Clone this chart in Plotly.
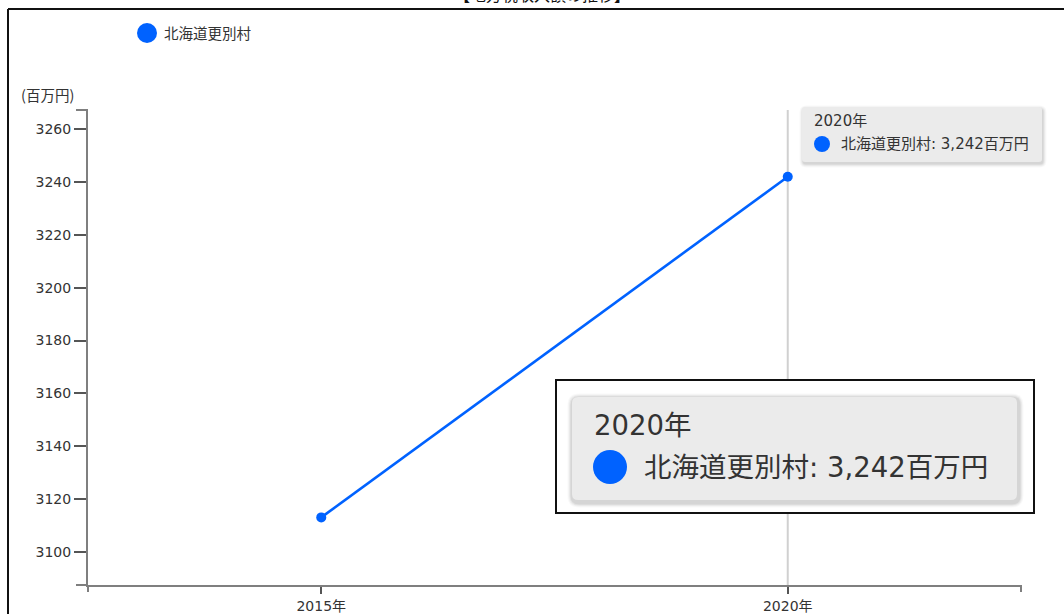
import plotly.graph_objects as go

# ---- data ----
years = ["2015年", "2020年"]
values = [3113, 3242]
series_name = "北海道更別村"
unit = "百万円"
y_title = "(百万円)"
y_ticks = [3100, 3120, 3140, 3160, 3180, 3200, 3220, 3240, 3260]
title_text = "【地方税収入額の推移】"

# ---- layout helpers ----
W, H = 1064, 614
PL, PR, PT, PB = 88, 1021, 110, 585
BLUE = "#0062ff"
FONT = "DejaVu Sans, Noto Sans CJK JP, sans-serif"
CJK = "Noto Sans CJK JP, sans-serif"
TXT = "#333333"


def fx(p):
    return (p - PL) / (PR - PL)


def fy(p):
    return (PB - p) / (PB - PT)


fig = go.Figure()
fig.add_trace(go.Scatter(
    x=years, y=values, mode="lines+markers", name=series_name,
    line=dict(color=BLUE, width=2.6),
    marker=dict(color=BLUE, size=10),
    showlegend=False, hoverinfo="skip",
))

shapes = []
annotations = []


def line(x0, y0, x1, y1, color="#555", width=1.5, layer="above"):
    shapes.append(dict(type="line", xref="paper", yref="paper",
                       x0=fx(x0), y0=fy(y0), x1=fx(x1), y1=fy(y1),
                       line=dict(color=color, width=width), layer=layer))


def rrect(x0, y0, x1, y1, r, fill):
    rx = r / (PR - PL)
    ry = r / (PB - PT)
    X0, X1 = fx(x0), fx(x1)
    Yt, Yb = fy(y0), fy(y1)
    p = (f"M {X0+rx},{Yt} L {X1-rx},{Yt} Q {X1},{Yt} {X1},{Yt-ry} "
         f"L {X1},{Yb+ry} Q {X1},{Yb} {X1-rx},{Yb} L {X0+rx},{Yb} "
         f"Q {X0},{Yb} {X0},{Yb+ry} L {X0},{Yt-ry} Q {X0},{Yt} {X0+rx},{Yt} Z")
    shapes.append(dict(type="path", xref="paper", yref="paper", path=p,
                       fillcolor=fill, line=dict(color=fill, width=0),
                       layer="above"))


def dot(cx, cy, r):
    shapes.append(dict(type="circle", xref="paper", yref="paper",
                       xsizemode="pixel", ysizemode="pixel",
                       xanchor=fx(cx), yanchor=fy(cy),
                       x0=-r, x1=r, y0=-r, y1=r,
                       fillcolor=BLUE, line=dict(width=0), layer="above"))


def text(x, y, s, size, xanchor="left", yanchor="middle", color=TXT, family=FONT):
    annotations.append(dict(xref="paper", yref="paper", x=fx(x), y=fy(y),
                            text=s, showarrow=False, xanchor=xanchor,
                            yanchor=yanchor, borderpad=0,
                            font=dict(family=family, size=size, color=color)))


def tooltip(x0, y0, x1, y1, r, shadow):
    steps = ((shadow + 2, 0.025), (shadow, 0.035), (shadow - 2, 0.05), (shadow - 4, 0.06))
    for k, a in steps:
        k = max(k, 1)
        rrect(x0 - k / 2 + 1, y0 - k / 2 + 2, x1 + k / 2 + 1, y1 + k / 2 + 2,
              r + k / 2, f"rgba(0,0,0,{a})")
    rrect(x0, y0, x1, y1, r, "#ebebeb")


# outer frame of the page
line(8, 9, W + 5, 9, color="#111", width=2)
line(8, 9, 8, H + 5, color="#111", width=2)

# hover guide line at the last category
shapes.append(dict(type="line", xref="x", yref="paper",
                   x0=years[-1], x1=years[-1], y0=0, y1=1,
                   line=dict(color="#d0d0d0", width=2), layer="below"))

# axis end stubs (d3 style outer ticks)
line(PL - 12, PT, PL, PT, color="#7f7f7f", width=2)
line(PL - 12, PB, PL, PB, color="#7f7f7f", width=2)
line(PL, PB, PL, PB + 7, color="#7f7f7f", width=2)
line(PR, PB, PR, PB + 7, color="#7f7f7f", width=2)

# legend
dot(147, 33, 10)
text(163, 33, series_name, 14.5, family=CJK)

# y axis unit title
text(20, 95, y_title, 14.5, family=CJK)

# title, mostly above the top edge as in the reference
text(542, 6, title_text, 16, xanchor="center", yanchor="bottom", color="#111")

label_top = years[-1]
label_row = f"{series_name}: {values[-1]:,}{unit}"

# small hover tooltip
tooltip(802, 107, 1042, 162, 3, 5)
text(813, 121, label_top, 15)
dot(822, 144, 8)
text(840, 144, label_row, 15)

# magnified inset of the tooltip
shapes.append(dict(type="rect", xref="paper", yref="paper",
                   x0=fx(556), x1=fx(1034), y0=fy(513), y1=fy(380),
                   fillcolor="white", line=dict(color="#111", width=2),
                   layer="above"))
tooltip(572, 397, 1017, 500, 6, 9)
text(593, 425, label_top, 27.5)
dot(610, 467, 17)
text(643, 467, label_row, 27.5)

axis_common = dict(showgrid=False, zeroline=False, showline=True,
                   linecolor="#7f7f7f", linewidth=2, ticks="outside",
                   tickwidth=1.5, tickcolor="#555", automargin=False,
                   tickfont=dict(size=14, color=TXT, family=FONT),
                   fixedrange=True)

fig.update_layout(
    width=W, height=H,
    margin=dict(l=PL, r=W - PR, t=PT, b=H - PB, autoexpand=False),
    paper_bgcolor="white", plot_bgcolor="white",
    font=dict(family=FONT, size=14, color=TXT),
    showlegend=False,
    shapes=shapes, annotations=annotations,
    xaxis=dict(type="category", range=[-0.5, 1.5], ticklen=7, **axis_common),
    yaxis=dict(range=[3087.4, 3267.3], tickvals=y_ticks, ticklen=12,
               **axis_common),
)

fig.write_html("out.html", config={"displayModeBar": False},
               post_script="document.body.style.margin='0';"
                           "document.body.style.overflow='hidden';")
